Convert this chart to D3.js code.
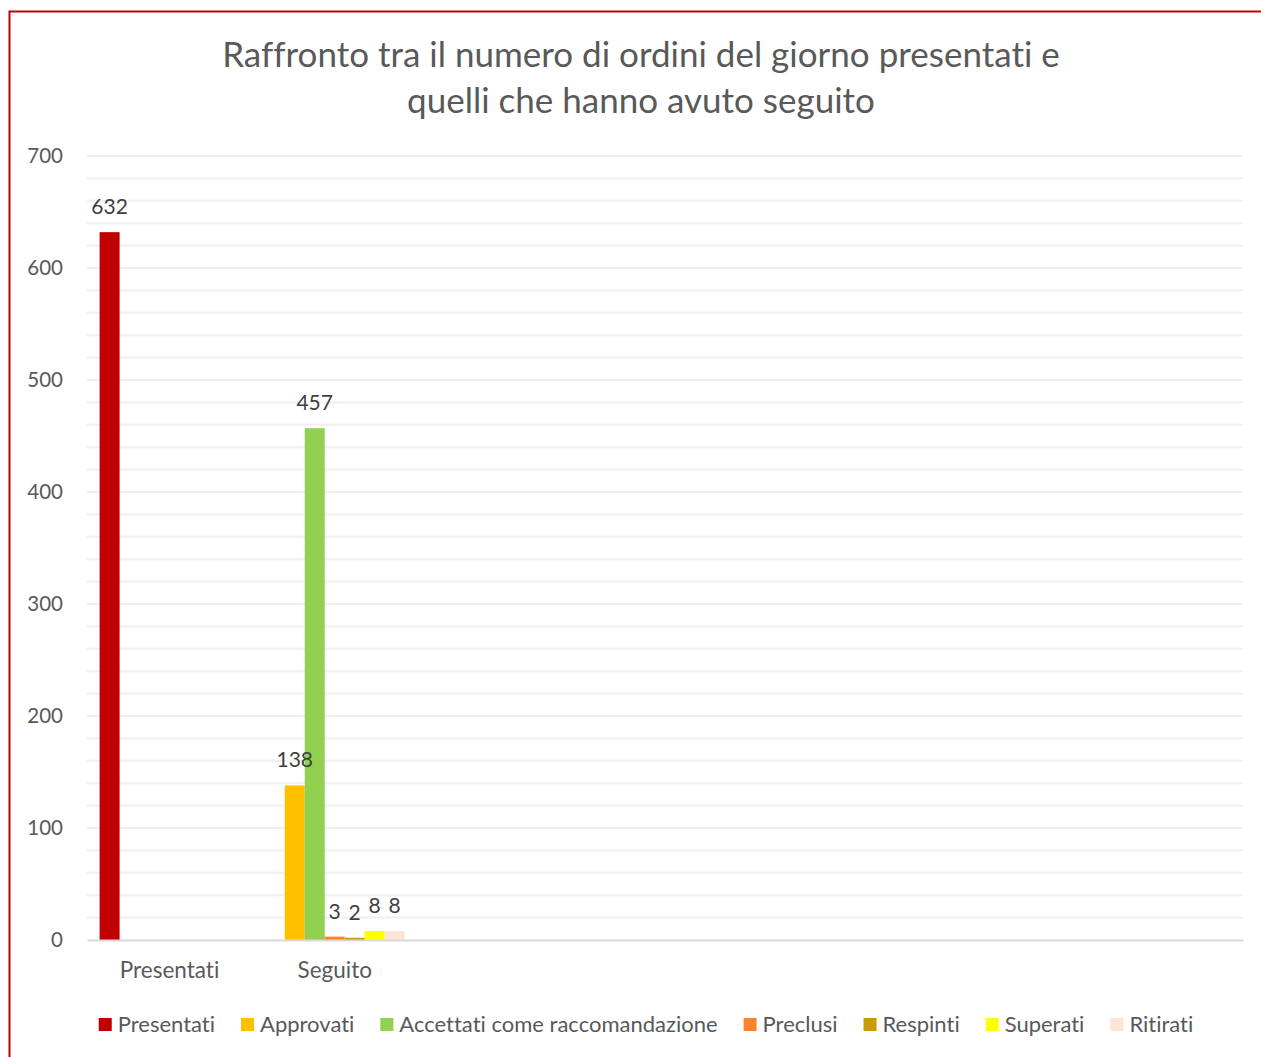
<!DOCTYPE html>
<html>
<head>
<meta charset="utf-8">
<script src="https://cdn.jsdelivr.net/npm/d3@7"></script>
<style>
  body { margin: 0; background: #fff; }
  svg text { font-family: Lato, "Open Sans", sans-serif; font-variant-ligatures: none; }
</style>
</head>
<body>
<div id="chart"></div>
<script>
// chart data
const categories = ["Presentati", "Seguito", "", "", "", "", ""];
const seriesNames = ["Presentati", "Approvati", "Accettati come raccomandazione", "Preclusi", "Respinti", "Superati", "Ritirati"];
const seriesColors = ["#c00000", "#ffc000", "#92d050", "#ff832b", "#cc9a06", "#ffff00", "#fce4d6"];
const presentati = [632, null, null, null, null, null, null];
const approvati = [null, 138, null, null, null, null, null];
const accettati = [null, 457, null, null, null, null, null];
const preclusi = [null, 3, null, null, null, null, null];
const respinti = [null, 2, null, null, null, null, null];
const superati = [null, 8, null, null, null, null, null];
const ritirati = [null, 8, null, null, null, null, null];
const yTicks = [0, 100, 200, 300, 400, 500, 600, 700];

const seriesValues = [presentati, approvati, accettati, preclusi, respinti, superati, ritirati];

const width = 1261;
const height = 1057;
const margin = {left: 87, right: 18, top: 156, bottom: 117};

const svg = d3.select("#chart")
  .append("svg")
  .attr("width", width)
  .attr("height", height);

// red frame (right and bottom edges fall outside the picture)
svg.append("rect")
  .attr("x", 9.5).attr("y", 11.5)
  .attr("width", 1300).attr("height", 1100)
  .attr("fill", "none")
  .attr("stroke", "#c00000")
  .attr("stroke-width", 2);

// title
const title = svg.append("text")
  .attr("text-anchor", "middle")
  .attr("fill", "#595959")
  .attr("font-size", "35px");
title.append("tspan").attr("x", 641).attr("y", 67)
  .text("Raffronto tra il numero di ordini del giorno presentati e");
title.append("tspan").attr("x", 641).attr("y", 113)
  .text("quelli che hanno avuto seguito");

// scales
const yScale = d3.scaleLinear()
  .domain([0, 700])
  .range([height - margin.bottom, margin.top]);

const x0 = d3.scaleBand()
  .domain(d3.range(categories.length))
  .range([margin.left, width - margin.right])
  .paddingInner(0)
  .paddingOuter(0);

const x1 = d3.scaleBand()
  .domain(d3.range(seriesNames.length))
  .range([0, x0.bandwidth()])
  .paddingInner(0)
  .paddingOuter(0.63);

// gridlines every 20
svg.append("g")
  .selectAll("line")
  .data(d3.range(20, 701, 20))
  .join("line")
    .attr("x1", margin.left)
    .attr("x2", width - margin.right)
    .attr("y1", d => yScale(d))
    .attr("y2", d => yScale(d))
    .attr("stroke", "#efefef")
    .attr("stroke-width", 2);

// y axis labels
svg.append("g")
  .attr("transform", `translate(${margin.left}, 0)`)
  .call(d3.axisLeft(yScale).tickValues(yTicks).tickSize(0).tickPadding(24))
  .call(g => g.select(".domain").remove())
  .call(g => g.selectAll("text")
    .attr("fill", "#595959")
    .attr("font-size", "20.5px")
    .attr("font-family", "Lato, 'Open Sans', sans-serif"));

// flatten to points (blank cells skipped)
const points = [];
seriesValues.forEach((vals, s) => {
  vals.forEach((v, c) => { if (v != null) points.push({c: c, s: s, v: v}); });
});

// bars
svg.append("g")
  .selectAll("rect")
  .data(points)
  .join("rect")
    .attr("x", p => x0(p.c) + x1(p.s))
    .attr("y", p => yScale(p.v))
    .attr("width", x1.bandwidth())
    .attr("height", p => yScale(0) - yScale(p.v))
    .attr("fill", p => seriesColors[p.s]);

// x axis
svg.append("g")
  .attr("transform", `translate(0, ${yScale(0)})`)
  .call(d3.axisBottom(x0).tickSize(0).tickPadding(22).tickFormat(i => categories[i]))
  .call(g => g.select(".domain").attr("stroke", "#d9d9d9").attr("stroke-width", 2))
  .call(g => g.selectAll("text")
    .attr("fill", "#595959")
    .attr("font-size", "22.5px")
    .attr("font-family", "Lato, 'Open Sans', sans-serif"));

// data labels on top of everything
svg.append("g")
  .selectAll("text")
  .data(points)
  .join("text")
    .attr("x", p => x0(p.c) + x1(p.s) + x1.bandwidth() / 2)
    .attr("y", p => yScale(p.v) - 18)
    .attr("text-anchor", "middle")
    .attr("fill", "#404040")
    .attr("font-size", "21px")
    .text(p => p.v);

// legend
const legend = svg.append("g");
let lx = 0;
seriesNames.forEach((name, i) => {
  const item = legend.append("g").attr("transform", `translate(${lx}, 0)`);
  item.append("rect")
    .attr("x", 0).attr("y", -6)
    .attr("width", 13).attr("height", 13)
    .attr("fill", seriesColors[i]);
  const t = item.append("text")
    .attr("x", 19).attr("y", 8)
    .attr("fill", "#595959")
    .attr("font-size", "22px")
    .text(name);
  lx += 19 + t.node().getComputedTextLength() + 26;
});
lx -= 26;
legend.attr("transform", `translate(${(98 + 1194) / 2 - lx / 2}, 1024)`);
</script>
</body>
</html>
